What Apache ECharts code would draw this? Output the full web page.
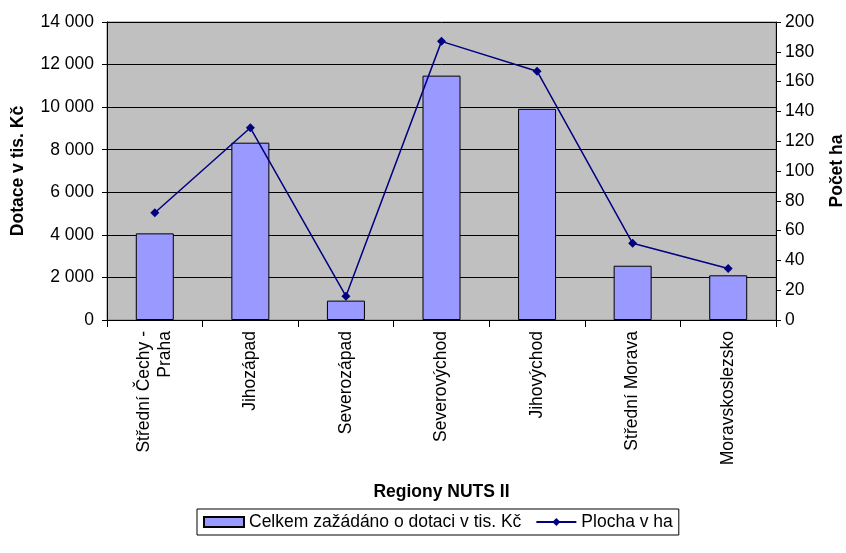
<!DOCTYPE html>
<html>
<head>
<meta charset="utf-8">
<script src="https://cdn.jsdelivr.net/npm/echarts@6/dist/echarts.min.js"></script>
<style>
  html, body { margin: 0; padding: 0; background: #fff; }
  #chart { width: 846px; height: 553px; }
</style>
</head>
<body>
<div id="chart"></div>
<script>
// regiony NUTS II
var regions = ['Střední Čechy -\nPraha', 'Jihozápad', 'Severozápad', 'Severovýchod', 'Jihovýchod', 'Střední Morava', 'Moravskoslezsko']
var dotace = [4070, 8330, 910, 11480, 9920, 2550, 2100]   // tis. Kč
var plocha = [72, 129, 16, 187, 167, 51.5, 34.5]          // ha

var barName = 'Celkem zažádáno o dotaci v tis. Kč'
var lineName = 'Plocha v ha'
var font = 'Liberation Sans, Arial, sans-serif'
var fs = 17.5

function fmt(v) {
  return String(v).replace(/\B(?=(\d{3})+(?!\d))/g, ' ')
}

var chart = echarts.init(document.getElementById('chart'))
chart.setOption({
  animation: false,
  textStyle: { fontFamily: font, color: '#000' },
  grid: {
    left: 107, right: 70, top: 22, bottom: 233,
    outerBoundsMode: 'none',
    show: true,
    backgroundColor: '#c0c0c0',
    borderColor: '#808080',
    borderWidth: 1
  },
  legend: {
    left: 197, top: 509,
    padding: [4, 6],
    itemGap: 14,
    itemWidth: 40, itemHeight: 10,
    backgroundColor: '#fff',
    borderColor: '#000',
    borderWidth: 1,
    borderRadius: 0,
    textStyle: { fontSize: fs, color: '#000', fontFamily: font },
    data: [
      { name: barName, icon: 'rect' },
      { name: lineName }
    ]
  },
  xAxis: {
    type: 'category',
    data: regions,
    name: 'Regiony NUTS II',
    nameLocation: 'middle',
    nameGap: 163,
    nameTextStyle: { fontSize: fs, fontWeight: 'bold', color: '#000' },
    axisLine: { lineStyle: { color: '#000' } },
    axisTick: { show: true, length: 7, lineStyle: { color: '#000' } },
    axisLabel: { rotate: 90, fontSize: fs, color: '#000', margin: 11, lineHeight: 21 }
  },
  yAxis: [{
    type: 'value',
    min: 0, max: 14000, interval: 2000,
    name: 'Dotace v tis. Kč',
    nameLocation: 'middle',
    nameGap: 80,
    nameTextStyle: { fontSize: fs, fontWeight: 'bold', color: '#000' },
    axisLine: { show: true, lineStyle: { color: '#000' } },
    axisTick: { show: true, length: 5, lineStyle: { color: '#000' } },
    axisLabel: { fontSize: fs, color: '#000', margin: 13, formatter: fmt },
    splitLine: { show: true, lineStyle: { color: '#000', width: 1 } }
  }, {
    type: 'value',
    min: 0, max: 200, interval: 20,
    name: 'Počet ha',
    nameLocation: 'middle',
    nameGap: 52,
    nameRotate: 90,
    nameTextStyle: { fontSize: fs, fontWeight: 'bold', color: '#000' },
    axisLine: { show: true, lineStyle: { color: '#000' } },
    axisTick: { show: true, length: 5, lineStyle: { color: '#000' } },
    axisLabel: { fontSize: fs, color: '#000', margin: 9 },
    splitLine: { show: false }
  }],
  series: [{
    name: barName,
    type: 'bar',
    data: dotace,
    barWidth: 38,
    itemStyle: { color: '#9999ff', borderColor: '#000', borderWidth: 1 }
  }, {
    name: lineName,
    type: 'line',
    yAxisIndex: 1,
    data: plocha,
    symbol: 'diamond',
    symbolSize: 9,
    lineStyle: { color: '#000080', width: 1.5 },
    itemStyle: { color: '#000080' }
  }]
})
</script>
</body>
</html>
